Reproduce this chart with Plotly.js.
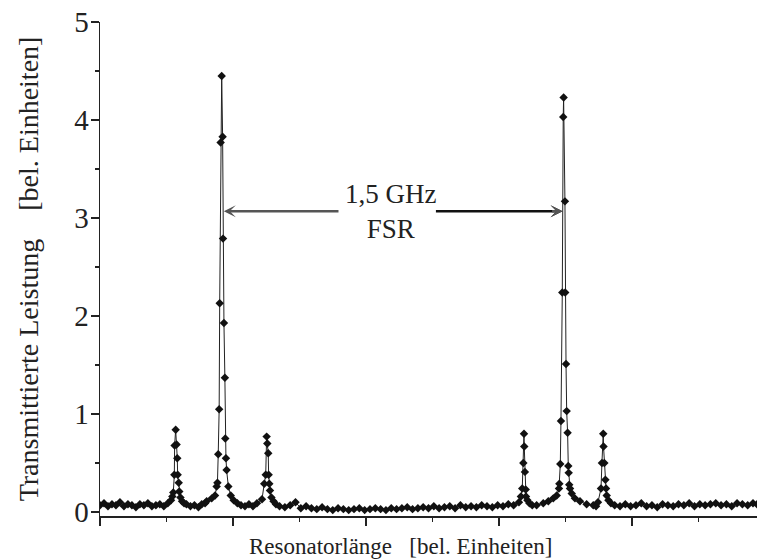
<!DOCTYPE html>
<html>
<head>
<meta charset="utf-8">
<script src="https://cdn.plot.ly/plotly-3.0.1.min.js"></script>
<style>html,body{margin:0;padding:0;background:#fff;}#chart{width:757px;height:560px;}</style>
</head>
<body>
<div id="chart"></div>
<script>
// Resonator length in arbitrary units (major tick = 100 units)
// Transmitted power in arbitrary units

const xBase1 = [0,3,6,9,12,15,18,21,24,27,30,33,36,39,42,45,48,51];
const yBase1 = [0.07,0.09,0.06,0.08,0.07,0.10,0.06,0.08,0.07,0.05,0.08,0.07,0.09,0.06,0.07,0.08,0.06,0.09];

const xPeakS1 = [53.4,54.4,55.1,55.9,56.1,56.9,57.6,58.1,58.4,59.2,59.6,60.5,61.7,63.2];
const yPeakS1 = [0.12,0.16,0.20,0.38,0.68,0.84,0.69,0.55,0.38,0.30,0.21,0.15,0.11,0.09];

const xBase2 = [65,68,71,74,76.5,79];
const yBase2 = [0.08,0.06,0.07,0.05,0.08,0.09];

const xPeakB1 = [80.2,84.0,86.5,87.7,88.3,88.9,89.6,90.0,90.7,91.5,92.2,92.5,93.2,93.9,94.2,94.7,95.2,96.5,98.3,100.5,103.3];
const yPeakB1 = [0.11,0.14,0.17,0.26,0.30,0.59,1.05,2.13,3.77,4.45,3.83,2.79,1.93,1.37,0.75,0.55,0.43,0.26,0.17,0.12,0.09];

const xBase3 = [106,109,112,115,118];
const yBase3 = [0.07,0.06,0.08,0.06,0.09];

const xPeakS2 = [121.8,123.5,124.6,125.3,125.8,126.5,126.8,127.3,127.8,128.9,130.5,132.3];
const yPeakS2 = [0.13,0.29,0.38,0.77,0.70,0.60,0.38,0.29,0.22,0.15,0.11,0.08];

const xBase4 = [135,139,143,147,151,155,159,163,167,171,175,179,183,187,191,195,199,203,207,211,215,219,223,227,231,235,239,243,247,251,255,259,263,267,271,275,279,283,287,291,295,299,303,307,311];
const yBase4 = [0.06,0.05,0.07,0.10,0.04,0.06,0.04,0.03,0.05,0.03,0.02,0.04,0.03,0.02,0.03,0.04,0.02,0.03,0.04,0.03,0.02,0.04,0.03,0.04,0.05,0.03,0.04,0.05,0.04,0.06,0.04,0.05,0.06,0.04,0.07,0.05,0.06,0.05,0.07,0.06,0.05,0.07,0.06,0.08,0.07];

const xPeakS3 = [315.0,316.5,317.5,318.3,318.8,319.0,319.5,320.1,320.3,321.4,322.9];
const yPeakS3 = [0.10,0.16,0.24,0.50,0.80,0.67,0.41,0.23,0.16,0.12,0.09];

const xBase5 = [325,328.3];
const yBase5 = [0.07,0.07];

const xPeakB2 = [333.3,337.1,340.8,343.4,345.1,345.4,346.1,346.6,347.6,348.3,348.6,349.6,349.8,350.4,350.9,351.6,352.1,352.4,352.8,353.4,354.7,357.1,360.9,365.9,370.9];
const yPeakB2 = [0.09,0.11,0.14,0.17,0.24,0.29,0.49,0.93,2.24,4.03,4.23,3.17,2.24,1.51,1.03,0.81,0.47,0.40,0.28,0.24,0.19,0.14,0.11,0.08,0.07];

const xPeakS4 = [373,374.4,376.7,377.4,378.4,378.6,379.2,380.0,380.5,381.0,382.3,384.2];
const yPeakS4 = [0.06,0.10,0.24,0.50,0.80,0.67,0.50,0.33,0.24,0.17,0.12,0.09];

const xBase6 = [387,391,395,399,403,407,411,415,419,423,427,431,435,439,443,447,451,455,459,463,467,471,475,479,483,487,491,494];
const yBase6 = [0.07,0.06,0.08,0.06,0.07,0.09,0.06,0.07,0.05,0.08,0.07,0.06,0.08,0.07,0.09,0.06,0.08,0.07,0.08,0.09,0.07,0.08,0.06,0.09,0.08,0.07,0.09,0.08];

const yTickVals = [0,1,2,3,4,5];
const yTickText = ['0','1','2','3','4','5'];
const fsrLabel = '1,5 GHz<br>FSR';
const xTitle = 'Resonatorlänge\u00a0\u00a0\u00a0[bel. Einheiten]';
const yTitle = 'Transmittierte Leistung\u00a0\u00a0\u00a0\u00a0[bel. Einheiten]';
const arrowLevel = 3.07;

const xAll = [].concat(xBase1,xPeakS1,xBase2,xPeakB1,xBase3,xPeakS2,xBase4,xPeakS3,xBase5,xPeakB2,xPeakS4,xBase6);
const yAll = [].concat(yBase1,yPeakS1,yBase2,yPeakB1,yBase3,yPeakS2,yBase4,yPeakS3,yBase5,yPeakB2,yPeakS4,yBase6);

function peakX(xs, ys){ let i = ys.indexOf(Math.max.apply(null, ys)); return xs[i]; }
const xL = peakX(xPeakB1, yPeakB1) + 1.6;
const xR = peakX(xPeakB2, yPeakB2) - 0.8;
const xMid = (xL + xR) / 2 - 2;

const serif = 'Liberation Serif, Times New Roman, serif';

const trace = {
  x: xAll, y: yAll, type: 'scatter', mode: 'lines+markers',
  line: {color: '#222', width: 1},
  marker: {symbol: 'diamond', size: 6.5, color: '#111'},
  hoverinfo: 'skip', showlegend: false
};

const layout = {
  width: 757, height: 560,
  margin: {l: 100, r: 0, t: 22, b: 44},
  paper_bgcolor: '#fff', plot_bgcolor: '#fff',
  font: {family: serif, color: '#222', size: 25},
  xaxis: {
    range: [0, 494], showgrid: false, zeroline: false,
    showline: true, linecolor: '#222', linewidth: 1.5,
    ticks: 'outside', ticklen: 8, tickwidth: 1.5, tickcolor: '#222', dtick: 100, tick0: 0,
    showticklabels: false,
    minor: {dtick: 50, tick0: 0, ticks: 'outside', ticklen: 4, tickwidth: 1.5, tickcolor: '#222'}
  },
  yaxis: {
    range: [-0.04, 5], showgrid: false, zeroline: false,
    showline: true, linecolor: '#222', linewidth: 1.5,
    ticks: 'outside', ticklen: 8, tickwidth: 1.5, tickcolor: '#222',
    tickvals: yTickVals, ticktext: yTickText,
    tickfont: {family: serif, size: 29, color: '#222'},
    ticklabelstandoff: -4,
    minor: {dtick: 0.5, tick0: 0, ticks: 'outside', ticklen: 4, tickwidth: 1.5, tickcolor: '#222'},
    title: {text: yTitle, font: {family: serif, size: 28, color: '#222'}, standoff: 27}
  },
  annotations: [
    {x: 0.457, y: 0, xref: 'paper', yref: 'paper', yshift: -16, yanchor: 'top', xanchor: 'center',
     text: xTitle, showarrow: false, font: {family: serif, size: 23, color: '#222'}},
    {x: xMid, y: arrowLevel, xref: 'x', yref: 'y', text: fsrLabel, showarrow: false,
     font: {family: serif, size: 27, color: '#222'}, align: 'center'},
    {x: xL, y: arrowLevel, ax: xMid - 38, ay: arrowLevel, xref: 'x', yref: 'y', axref: 'x', ayref: 'y',
     text: '', showarrow: true, arrowhead: 3, arrowsize: 0.8, arrowwidth: 2.5, arrowcolor: '#555'},
    {x: xR, y: arrowLevel, ax: xMid + 33, ay: arrowLevel, xref: 'x', yref: 'y', axref: 'x', ayref: 'y',
     text: '', showarrow: true, arrowhead: 3, arrowsize: 0.8, arrowwidth: 2.5, arrowcolor: '#111'},
    {x: xR, y: arrowLevel, ax: xR - 9, ay: arrowLevel, xref: 'x', yref: 'y', axref: 'x', ayref: 'y',
     text: '', showarrow: true, arrowhead: 3, arrowsize: 0.8, arrowwidth: 2.5, arrowcolor: '#555'}
  ]
};

Plotly.newPlot('chart', [trace], layout, {displayModeBar: false, staticPlot: true});
</script>
</body>
</html>
